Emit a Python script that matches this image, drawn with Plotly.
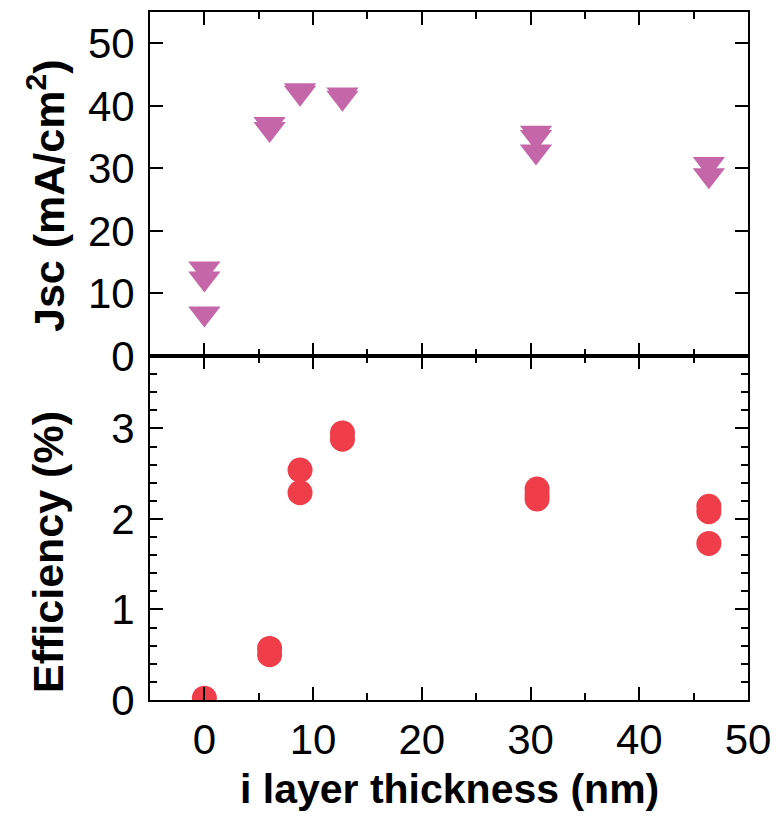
import plotly.graph_objects as go
from plotly.subplots import make_subplots

# ---- data ----
jsc_thickness = [0, 0, 0, 6, 6, 8.8, 8.8, 12.7, 12.7, 30.5, 30.5, 30.5, 46.4, 46.4]
jsc_values = [14.0, 12.4, 6.8, 37.1, 36.3, 42.5, 42.1, 41.8, 41.3, 35.7, 35.0, 32.7, 30.7, 28.9]

eff_thickness = [0, 6, 6, 8.8, 8.8, 12.7, 12.7, 30.6, 30.6, 30.6, 46.4, 46.4, 46.4]
eff_values = [0.02, 0.57, 0.50, 2.54, 2.29, 2.95, 2.88, 2.33, 2.27, 2.22, 2.14, 2.08, 1.73]

x_ticks = [0, 10, 20, 30, 40, 50]
jsc_ticks = [0, 10, 20, 30, 40, 50]
eff_ticks = [0, 1, 2, 3]

FONT = "Arial, 'Liberation Sans', Helvetica, sans-serif"
TRI_COLOR = "#C566A8"
CIRC_COLOR = "#EF3E49"

fig = make_subplots(rows=2, cols=1, shared_xaxes=False, vertical_spacing=0)

fig.add_trace(go.Scatter(
    x=jsc_thickness, y=jsc_values, mode="markers",
    marker=dict(symbol="triangle-down", size=28, color=TRI_COLOR, line=dict(width=0)),
    showlegend=False), row=1, col=1)

fig.add_trace(go.Scatter(
    x=eff_thickness, y=eff_values, mode="markers",
    marker=dict(symbol="circle", size=25, color=CIRC_COLOR, line=dict(width=0)),
    showlegend=False), row=2, col=1)

axis_common = dict(
    showline=True, linecolor="black", linewidth=2, mirror="ticks",
    ticks="inside", tickcolor="black", tickwidth=2, ticklen=13,
    showgrid=False, zeroline=False,
    tickfont=dict(family=FONT, size=42, color="black"),
)

fig.update_xaxes(range=[-5, 50], tickvals=x_ticks,
                 minor=dict(dtick=5, tick0=0, ticks="inside", ticklen=7, tickwidth=2, tickcolor="black"),
                 **axis_common)
fig.update_xaxes(showticklabels=False, row=1, col=1)
fig.update_xaxes(ticklabelstandoff=2, row=2, col=1)

fig.update_yaxes(range=[0, 55], tickvals=jsc_ticks, ticklabelstandoff=5, row=1, col=1, **axis_common)
fig.update_yaxes(range=[0, 3.8], tickvals=eff_ticks, ticklabelstandoff=5,
                 minor=dict(dtick=0.2, tick0=0, ticks="inside", ticklen=7, tickwidth=2, tickcolor="black"),
                 row=2, col=1, **axis_common)

xtitle_font = dict(family=FONT, size=41, color="black", weight="bold")
ytitle_font = dict(family=FONT, size=43, color="black", weight="bold")

fig.update_layout(
    width=781, height=817,
    margin=dict(l=150, r=26, t=10, b=117),
    plot_bgcolor="white", paper_bgcolor="white",
    annotations=[
        dict(text="i layer thickness (nm)", xref="paper", yref="paper",
             x=0.5, y=0, yshift=-89, xanchor="center", yanchor="middle",
             showarrow=False, font=xtitle_font),
        dict(text="Jsc (mA/cm<sup>2</sup>)", xref="paper", yref="paper",
             x=0, y=0.75, xshift=-104, yshift=-12, xanchor="center", yanchor="middle",
             textangle=-90, showarrow=False, font=ytitle_font),
        dict(text="Efficiency (%)", xref="paper", yref="paper",
             x=0, y=0.25, xshift=-102, yshift=-24, xanchor="center", yanchor="middle",
             textangle=-90, showarrow=False, font=ytitle_font),
    ],
)

fig.write_html(
    "out.html",
    config={"displayModeBar": False},
    post_script="document.body.style.margin='0';document.body.style.overflow='hidden';",
)
